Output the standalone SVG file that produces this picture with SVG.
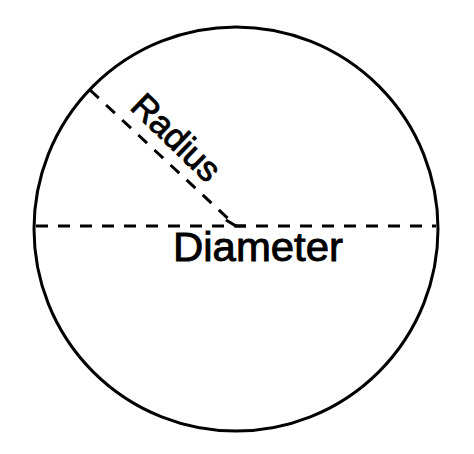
<svg xmlns="http://www.w3.org/2000/svg" width="474" height="454" viewBox="0 0 474 454">
<style>
.outline{fill:none;stroke:#000;stroke-width:3}
.dash{fill:none;stroke:#000;stroke-width:3;stroke-dasharray:12 10}
.lbl{font-family:"Liberation Sans","DejaVu Sans",sans-serif;fill:#000;stroke:#000;stroke-width:0.9}
</style>
<rect width="474" height="454" fill="#fff"/>
<g id="circle">
<circle class="outline" cx="236" cy="229" r="202"/>
</g>
<g id="connectors">
<line id="diameter-line" class="dash" x1="36" y1="226" x2="436" y2="226"/>
<line id="radius-line" class="dash" x1="90" y1="90" x2="236" y2="226" stroke-dasharray="11 9"/>
<polyline class="outline" points="226,220 236,226 246,226"/>
</g>
<g id="radius-label">
<text class="lbl" font-size="35" text-anchor="middle" transform="translate(168,146) rotate(44)">Radius</text>
</g>
<g id="diameter-label">
<text class="lbl" x="258" y="261" font-size="40" text-anchor="middle" textLength="170" lengthAdjust="spacingAndGlyphs">Diameter</text>
</g>
</svg>
